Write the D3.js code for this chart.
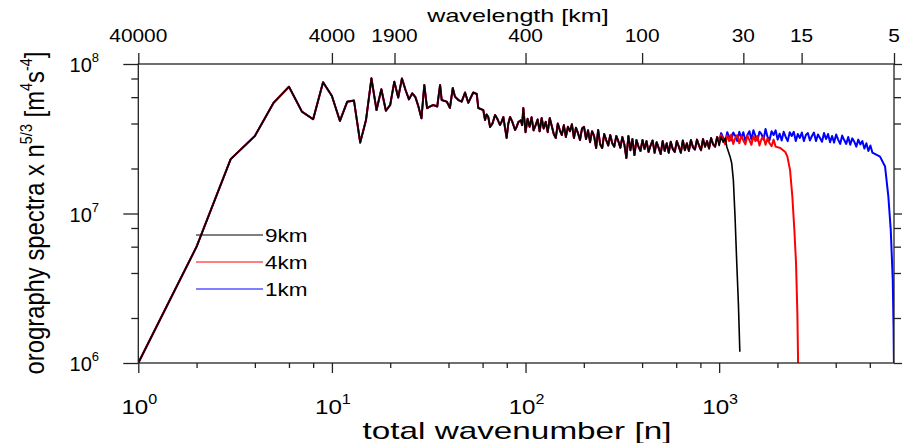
<!DOCTYPE html>
<html>
<head>
<meta charset="utf-8">
<script src="https://cdn.jsdelivr.net/npm/d3@7"></script>
<style>
  html, body { margin: 0; padding: 0; background: #fff; }
  svg { display: block; }
  text { font-family: "Liberation Sans", Arial, sans-serif; fill: #000; }
</style>
</head>
<body>
<svg id="chart" width="902" height="443"></svg>
<script>
// values are in units of 1e7 m^4 s^-4

// n = 1..32, one value per integer wavenumber (shared by all three runs)
const lowVals = [0.1, 0.6, 2.31, 3.30, 5.51, 7.05, 4.80, 4.27, 7.55, 6.11, 4.16, 5.60, 5.69, 2.98, 4.22, 8.02,
                 4.92, 6.78, 4.87, 5.32, 7.62, 5.96, 8.0, 6.70, 5.8, 6.37, 6.0, 5.18, 4.33, 7.24, 5.06, 5.18];

// n = 33..99, picked peaks and troughs
const midPts = [[33.4,5.32],[35,5.2],[36.2,7.24],[36.9,5.74],[39.2,5.6],[40.7,5.08],[42.1,6.91],[43.2,6.05],
  [45,5.74],[46.8,5.6],[48.7,6.45],[50.6,5.5],[53.7,6.45],[56,6.3],[57,5.08],[60.5,4.92],[61.8,4.22],[62.9,4.6],
  [64.2,4.42],[65.6,3.79],[67.5,4.0],[69.6,4.56],[71.5,4.3],[73.8,3.91],[75.2,4.1],[76.8,4.42],[78.2,3.8],
  [79.9,3.2],[81.5,4.0],[83.2,4.42],[85.5,4.1],[88.3,3.62],[90,3.8],[91.8,4.09],[94.5,4.2],[96,3.9],[97.4,5.08]];

// n = 100..977, read every 1/96 decade (common to all runs)
const bandCommon = [
  3.5, 4.3, 3.8, 4.4, 3.6, 3.9, 4.25, 3.55,
  4.35, 3.7, 4.1, 3.5, 4.35, 3.85, 3.4, 3.2,
  4.0, 3.6, 3.35, 3.9, 3.25, 3.8, 3.55, 3.95,
  3.2, 3.75, 3.45, 3.1, 3.7, 3.8, 3.15, 3.6,
  3.0, 3.55, 3.3, 2.74, 3.62, 2.9, 2.74, 3.4,
  3.1, 2.85, 3.35, 2.95, 2.8, 3.3, 3.05, 2.75,
  3.25, 2.9, 2.35, 3.3, 2.65, 3.15, 2.46, 3.1,
  2.8, 2.62, 3.1, 2.7, 3.05, 2.58, 2.85, 3.08,
  2.55, 3.0, 2.75, 2.5, 3.05, 2.62, 2.95, 2.55,
  3.02, 2.7, 2.58, 3.05, 2.8, 2.55, 3.08, 2.65,
  2.95, 2.62, 3.1, 2.78, 2.68, 3.12, 2.85, 2.65,
  3.15, 2.8, 3.05, 2.72, 3.2, 2.9, 2.8, 3.25];

// continuation from n = 1000 on the same 1/96-decade grid, then the cut-off
const band9 = [2.85, 3.25, 3.0, 3.2];
const drop9 = [[1095,2.8],[1139,2.4],[1161,2.17],[1184,1.68],[1208,0.95],[1233,0.467],[1257,0.252],[1279,0.119]];

const band4 = [3.0, 3.35, 3.1, 2.9, 3.32, 3.05, 3.38, 2.92, 3.2, 3.35, 2.95, 3.3, 3.08, 2.9, 3.32, 3.1,
               2.88, 3.28, 3.05, 3.3, 2.85, 3.15, 3.25, 2.88, 3.18, 2.95, 2.82, 3.12, 2.8];
const drop4 = [[2069,2.74],[2195,2.58],[2251,2.40],[2324,1.95],[2388,1.30],[2446,0.777],[2495,0.467],[2535,0.216],[2559,0.095]];

const band1 = [
  3.05, 3.45, 3.2, 3.0, 3.5, 3.25, 3.08, 3.48,
  3.3, 3.05, 3.52, 3.2, 3.5, 3.05, 3.35, 3.55,
  3.12, 3.6, 3.3, 3.08, 3.52, 3.4, 3.12, 3.68,
  3.25, 3.1, 3.55, 3.35, 3.6, 3.12, 3.42, 3.08,
  3.52, 3.25, 3.05, 3.5, 3.3, 3.52, 3.05, 3.4,
  3.2, 3.48, 3.05, 3.35, 3.45, 3.08, 3.3, 3.48,
  3.05, 3.38, 3.2, 3.02, 3.45, 3.15, 3.4, 3.0,
  3.3, 2.98, 3.38, 3.12, 2.92, 3.32, 3.1, 2.92,
  3.25, 2.88, 3.18, 3.02, 2.8, 3.12, 2.9, 3.05,
  2.72, 2.95, 2.62, 2.85, 2.55];
const drop1 = [[6776,2.4],[7194,2.06],[7480,1.30],[7697,0.777],[7882,0.36],[7960,0.17],[7999,0.09]];

const runs = [
  { name: '1km', color: '#0000ff', band: band1, drop: drop1, width: 2.0 },
  { name: '4km', color: '#ff0000', band: band4, drop: drop4, width: 2.0 },
  { name: '9km', color: '#000000', band: band9, drop: drop9, width: 1.6 }
];
const legendOrder = ['9km', '4km', '1km'];

const xMajor = [1, 10, 100, 1000];
const xMinor = [2, 4, 6, 8, 20, 40, 60, 80, 200, 400, 600, 800, 2000, 4000, 6000];
const yMajor = [1e6, 1e7, 1e8];
const yMinor = [2e6, 4e6, 6e6, 8e6, 2e7, 4e7, 6e7, 8e7];
const wavelengths = [40000, 4000, 1900, 400, 100, 30, 15, 5];   // km, n = 40000 / km

const W = 902, H = 443;
const pL = 138.3, pR = 894, pT = 64, pB = 363;

const svg = d3.select('#chart');
svg.append('rect').attr('width', W).attr('height', H).attr('fill', '#fff');

const x = d3.scaleLog().domain([1, 8000]).range([pL, pR]);
const y = d3.scaleLog().domain([1e6, 1e8]).range([pB, pT]);

const gridN = (start, i) => start * Math.pow(10, i / 96);

function series(run) {
  const pts = lowVals.map((v, i) => [i + 1, v]);
  pts.push(...midPts);
  bandCommon.forEach((v, i) => pts.push([gridN(100, i), v]));
  run.band.forEach((v, i) => pts.push([gridN(1000, i), v]));
  pts.push(...run.drop);
  return pts;
}

svg.append('clipPath').attr('id', 'plotClip')
  .append('rect').attr('x', pL).attr('y', pT).attr('width', pR - pL).attr('height', pB - pT);

const line = d3.line().x(d => x(d[0])).y(d => y(d[1] * 1e7));
const plot = svg.append('g').attr('clip-path', 'url(#plotClip)');
for (const r of runs) {
  plot.append('path').datum(series(r))
    .attr('fill', 'none').attr('stroke', r.color).attr('stroke-width', r.width)
    .attr('stroke-linejoin', 'round').attr('d', line);
}

// axes (ticks only, frame drawn separately)
function ticks(axis, vals, size, tr) {
  const g = svg.append('g').attr('transform', tr)
    .call(axis.tickValues(vals).tickSize(size).tickFormat(''));
  g.select('.domain').remove();
  g.selectAll('line').attr('stroke', '#222').attr('stroke-width', 1.3);
  return g;
}
ticks(d3.axisBottom(x), xMajor, 10, `translate(0,${pB})`);
ticks(d3.axisBottom(x), xMinor, 5, `translate(0,${pB})`);
ticks(d3.axisLeft(y), yMajor, 15, `translate(${pL},0)`);
ticks(d3.axisLeft(y), yMinor, 7, `translate(${pL},0)`);
ticks(d3.axisRight(y), yMajor, 15, `translate(${pR},0)`);
ticks(d3.axisRight(y), yMinor, 7, `translate(${pR},0)`);
ticks(d3.axisTop(x), wavelengths.map(k => 40000 / k), 11, `translate(0,${pT})`);

svg.append('rect').attr('x', pL).attr('y', pT).attr('width', pR - pL).attr('height', pB - pT)
  .attr('fill', 'none').attr('stroke', '#222').attr('stroke-width', 1.3);

// power-of-ten label: "10" with raised exponent
function pow10(g, exp, size, supSize, rise) {
  const t = g.append('text').attr('font-size', size);
  t.append('tspan').text('10');
  t.append('tspan').attr('font-size', supSize).attr('dy', -rise).text(exp);
  return t;
}

// bottom labels
xMajor.forEach(v => {
  const g = svg.append('g').attr('transform', `translate(${x(v) + 1},414) scale(1.15,1)`);
  pow10(g, Math.round(Math.log10(v)), 21, 14, 10).attr('text-anchor', 'middle');
});
// left labels
yMajor.forEach(v => {
  const g = svg.append('g').attr('transform', `translate(99,${y(v) + 8})`);
  pow10(g, Math.round(Math.log10(v)), 20, 13, 10).attr('text-anchor', 'end');
});
// top labels
wavelengths.forEach(k => {
  svg.append('g').attr('transform', `translate(${x(40000 / k)},42) scale(1.16,1)`)
    .append('text').attr('text-anchor', 'middle').attr('font-size', 18).text(k);
});

// stretch a text group horizontally to a target width
function fit(g, tr, target) {
  const w = g.node().getBBox().width;
  g.attr('transform', `${tr} scale(${target / w},1)`);
}

const wl = svg.append('g');
wl.append('text').attr('text-anchor', 'middle').attr('font-size', 18).text('wavelength [km]');
fit(wl, 'translate(518,22)', 183);

const xt = svg.append('g');
xt.append('text').attr('text-anchor', 'middle').attr('font-size', 23).text('total wavenumber [n]');
fit(xt, 'translate(517,439)', 309);

const yt = svg.append('g');
const ytt = yt.append('text').attr('text-anchor', 'middle').attr('font-size', 28);
ytt.append('tspan').text('orography spectra x n');
ytt.append('tspan').attr('font-size', 17).attr('dy', -12).text('5/3');
ytt.append('tspan').attr('dy', 12).text(' [m');
ytt.append('tspan').attr('font-size', 17).attr('dy', -12).text('4');
ytt.append('tspan').attr('dy', 12).text('s');
ytt.append('tspan').attr('font-size', 17).attr('dy', -12).text('-4');
ytt.append('tspan').attr('dy', 12).text(']');
fit(yt, 'translate(44,213) rotate(-90)', 323);

// legend
const legendY = d3.scalePoint().domain(legendOrder).range([235, 289]);
const colorOf = Object.fromEntries(runs.map(r => [r.name, r.color]));
legendOrder.forEach(name => {
  const ly = legendY(name);
  svg.append('line').attr('x1', 196).attr('x2', 263).attr('y1', ly).attr('y2', ly)
    .attr('stroke', colorOf[name]).attr('stroke-width', 1.1);
  svg.append('g').attr('transform', `translate(265,${ly + 7}) scale(1.25,1)`)
    .append('text').attr('font-size', 18).text(name);
});
</script>
</body>
</html>
